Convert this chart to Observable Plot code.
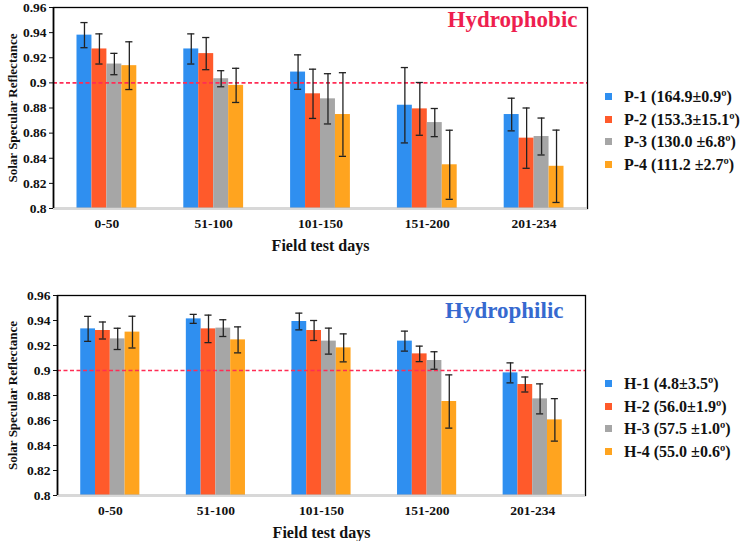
<!DOCTYPE html>
<html>
<head>
<meta charset="utf-8">
<script src="https://cdn.jsdelivr.net/npm/d3@7"></script>
<script src="https://cdn.jsdelivr.net/npm/@observablehq/plot@0.6"></script>
<style>
  body { margin: 0; background: #fff; }
  #root { position: relative; width: 745px; height: 541px; overflow: hidden; font-family: "Liberation Serif", serif; font-weight: bold; }
  .panel { position: absolute; left: 0; }
  .legend { position: absolute; left: 605px; font-size: 16px; line-height: 22.5px; color: #111; white-space: nowrap; }
  .legend .sw { display: inline-block; width: 7px; height: 7px; margin-right: 12px; vertical-align: 2px; }
</style>
</head>
<body>
<div id="root">
  <div id="top" class="panel" style="top:0"></div>
  <div id="legTop" class="legend" style="top:86px"></div>
  <div id="bot" class="panel" style="top:280px"></div>
  <div id="legBot" class="legend" style="top:373px"></div>
</div>
<script>
// ---------- data ----------
const categories = ["0-50", "51-100", "101-150", "151-200", "201-234"];
const colors = ["#2f8ff0", "#ff5a2b", "#a6a6a6", "#ffa41f"];
const yDomain = [0.8, 0.96];
const yTicks = [0.8, 0.82, 0.84, 0.86, 0.88, 0.9, 0.92, 0.94, 0.96];
const threshold = 0.9;

// Hydrophobic
const seriesP = ["P-1", "P-2", "P-3", "P-4"];
const labelsP = ["P-1 (164.9±0.9º)", "P-2 (153.3±15.1º)", "P-3 (130.0 ±6.8º)", "P-4 (111.2 ±2.7º)"];
const p1 = [0.938, 0.927, 0.9086, 0.8822, 0.8748];
const p2 = [0.927, 0.9233, 0.8913, 0.8793, 0.856];
const p3 = [0.915, 0.9033, 0.8873, 0.8684, 0.8573];
const p4 = [0.9137, 0.898, 0.8748, 0.8348, 0.8336];
const p1Err = [0.010, 0.012, 0.0137, 0.030, 0.013];
const p2Err = [0.012, 0.0128, 0.0196, 0.021, 0.024];
const p3Err = [0.0085, 0.0064, 0.020, 0.0112, 0.0147];
const p4Err = [0.019, 0.0136, 0.0333, 0.0275, 0.0288];

// Hydrophilic
const seriesH = ["H-1", "H-2", "H-3", "H-4"];
const labelsH = ["H-1 (4.8±3.5º)", "H-2 (56.0±1.9º)", "H-3 (57.5 ±1.0º)", "H-4 (55.0 ±0.6º)"];
const h1 = [0.9333, 0.9413, 0.9392, 0.9235, 0.8981];
const h2 = [0.932, 0.9333, 0.932, 0.9133, 0.8888];
const h3 = [0.9253, 0.9339, 0.9235, 0.908, 0.8773];
const h4 = [0.9307, 0.9245, 0.9181, 0.8752, 0.8605];
const h1Err = [0.010, 0.0036, 0.0067, 0.008, 0.008];
const h2Err = [0.0068, 0.011, 0.008, 0.0062, 0.006];
const h3Err = [0.0085, 0.0067, 0.0104, 0.007, 0.012];
const h4Err = [0.0127, 0.0104, 0.0112, 0.0213, 0.017];

// group layout (fraction of a category slot)
const groupFrac = 0.56;

function rowsOf(series, vals, errs) {
  const band = d3.scaleBand().domain(series).range([-groupFrac / 2, groupFrac / 2]);
  const rows = [];
  categories.forEach((c, i) => series.forEach((s, j) => rows.push({
    cat: i, s, v: vals[j][i], e: errs[j][i],
    x1: i + band(s), x2: i + band(s) + band.bandwidth(), xm: i + band(s) + band.bandwidth() / 2, cap: band.bandwidth() * 0.24
  })));
  return rows;
}

function panel({series, rows, title, titleColor, titleDx, titleDy, width, height, mt, mb, ml, mr}) {
  const ink = "#222";
  return Plot.plot({
    width, height,
    marginTop: mt, marginBottom: mb, marginLeft: ml, marginRight: mr,
    style: {fontFamily: "Liberation Serif, serif", fontWeight: "bold", fontSize: "13.5px", color: "#111", background: "transparent", overflow: "visible"},
    x: {domain: [-0.5, categories.length - 0.5], ticks: d3.range(categories.length), tickFormat: i => categories[i], tickSize: 0, tickPadding: 10, label: null},
    y: {domain: yDomain, ticks: yTicks, tickFormat: d => String(+d.toFixed(2)), tickSize: 4, tickPadding: 3, label: null},
    color: {domain: series, range: colors},
    marks: [
      Plot.rectY(rows, {x1: "x1", x2: "x2", y1: yDomain[0], y2: "v", fill: "s"}),
      Plot.ruleY([threshold], {stroke: "#ff2d55", strokeWidth: 1.6, strokeDasharray: "4,2.5"}),
      Plot.ruleX(rows, {x: "xm", y1: d => d.v - d.e, y2: d => d.v + d.e, stroke: ink, strokeWidth: 1.3}),
      Plot.ruleY(rows, {y: d => d.v + d.e, x1: d => d.xm - d.cap, x2: d => d.xm + d.cap, stroke: ink, strokeWidth: 1.3}),
      Plot.ruleY(rows, {y: d => d.v - d.e, x1: d => d.xm - d.cap, x2: d => d.xm + d.cap, stroke: ink, strokeWidth: 1.3}),
      Plot.frame({stroke: "#000", strokeWidth: 1.3}),
      Plot.ruleY([yDomain[0]], {stroke: "#d8d8d8", strokeWidth: 2}),
      Plot.ruleX([-0.5], {stroke: "#000", strokeWidth: 1.6}),
      Plot.text([title], {frameAnchor: "top-right", lineAnchor: "top", textAnchor: "end", dx: titleDx, dy: titleDy, fill: titleColor, fontSize: 23, fontWeight: "bold"}),
      Plot.text(["Field test days"], {frameAnchor: "bottom", lineAnchor: "middle", dy: 37, fontSize: 16, fontWeight: "bold", fill: "#111"}),
      Plot.text(["Solar Specular Reflectance"], {frameAnchor: "left", textAnchor: "middle", lineAnchor: "middle", rotate: -90, dx: -(ml - 12), fontSize: 13, fontWeight: "bold", fill: "#111"})
    ]
  });
}

function legend(el, labels) {
  labels.forEach((l, i) => {
    const row = document.createElement("div");
    const sw = document.createElement("span");
    sw.className = "sw";
    sw.style.background = colors[i];
    row.appendChild(sw);
    row.appendChild(document.createTextNode(l));
    el.appendChild(row);
  });
}

const rowsP = rowsOf(seriesP, [p1, p2, p3, p4], [p1Err, p2Err, p3Err, p4Err]);
const rowsH = rowsOf(seriesH, [h1, h2, h3, h4], [h1Err, h2Err, h3Err, h4Err]);

document.getElementById("top").appendChild(panel({
  series: seriesP, rows: rowsP, title: "Hydrophobic", titleColor: "#ee1f4f", titleDx: -10, titleDy: 3,
  width: 590, height: 265, mt: 7, mb: 57, ml: 53, mr: 3
}));
document.getElementById("bot").appendChild(panel({
  series: seriesH, rows: rowsH, title: "Hydrophilic", titleColor: "#3669cf", titleDx: -22, titleDy: 6,
  width: 590, height: 261, mt: 15, mb: 46, ml: 57, mr: 5
}));
legend(document.getElementById("legTop"), labelsP);
legend(document.getElementById("legBot"), labelsH);
</script>
</body>
</html>
